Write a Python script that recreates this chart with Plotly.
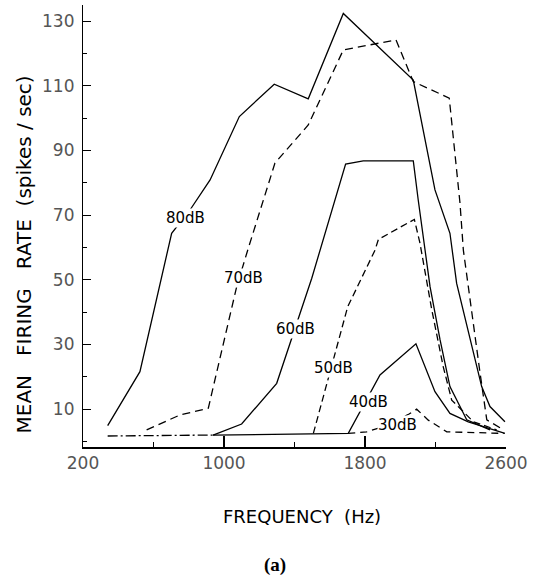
import plotly.graph_objects as go

# ---- data (frequency in Hz, mean firing rate in spikes/sec) ----
f80 = [340, 523, 703, 807, 921, 1087, 1285, 1478, 1677, 2074, 2197, 2282, 2320, 2396, 2462, 2509, 2594]
r80 = [4.9, 21.6, 64.4, 71.6, 80.9, 100.5, 110.5, 106.0, 132.4, 111.8, 77.8, 64.4, 48.9, 31.4, 17.0, 10.8, 6.1]

f70 = [561, 750, 911, 1072, 1138, 1289, 1478, 1677, 1976, 2074, 2278, 2339, 2358, 2396, 2453, 2491, 2585]
r70 = [3.6, 8.2, 10.3, 47.9, 59.8, 86.1, 97.9, 121.1, 124.2, 111.3, 106.2, 73.7, 59.2, 43.7, 21.1, 6.7, 3.6]

f60 = [938, 1100, 1299, 1498, 1690, 1790, 2074, 2102, 2169, 2226, 2282, 2377, 2509]
r60 = [2.0, 5.4, 18.0, 50.5, 85.8, 86.8, 86.8, 74.7, 47.9, 31.4, 17.0, 6.7, 3.6]

f50 = [1507, 1668, 1702, 1857, 1876, 2080, 2112, 2179, 2244, 2292, 2415, 2547]
r50 = [2.5, 34.5, 41.7, 59.2, 62.5, 68.7, 61.3, 40.7, 23.1, 12.8, 6.1, 3.6]

f40 = [938, 1705, 1885, 2089, 2197, 2244, 2282, 2386, 2594]
r40 = [2.0, 2.5, 20.6, 30.2, 15.4, 11.8, 8.7, 6.1, 2.5]

f30 = [1705, 1810, 1900, 2050, 2093, 2120, 2159, 2264, 2509, 2590]
r30 = [2.5, 3.0, 4.5, 8.5, 10.0, 8.7, 6.6, 3.0, 2.5, 2.5]

f_base = [340, 938]
r_base = [1.7, 2.0]

curve_labels = ["80dB", "70dB", "60dB", "50dB", "40dB", "30dB"]
label_f = [779, 1108, 1403, 1624, 1817, 1982]
label_r = [69.1, 50.6, 34.8, 22.7, 12.2, 5.1]

x_ticks = [200, 1000, 1800, 2600]
y_ticks = [10, 30, 50, 70, 90, 110, 130]

fig = go.Figure()
line_w = 1.3
series = [
    (f80, r80, "solid"),
    (f70, r70, "8px,5px"),
    (f60, r60, "solid"),
    (f50, r50, "7px,4px"),
    (f40, r40, "solid"),
    (f30, r30, "7px,5px"),
    (f_base, r_base, "10px,3px,2px,3px"),
]
for fx, ry, dash in series:
    fig.add_trace(go.Scatter(x=fx, y=ry, mode="lines",
                             line=dict(color="black", width=line_w, dash=dash),
                             showlegend=False, hoverinfo="skip"))

for t, fx, ry in zip(curve_labels, label_f, label_r):
    fig.add_annotation(x=fx, y=ry, xref="x", yref="y", text=t, showarrow=False,
                       font=dict(family="DejaVu Sans", size=15, color="black"),
                       bgcolor="white", borderpad=0)

tick_font = dict(family="DejaVu Sans", size=17, color="#555555")
fig.update_xaxes(range=[200, 2600], tickvals=x_ticks, ticktext=[str(v) for v in x_ticks],
                 ticks="inside", ticklen=11, tickwidth=1.5, tickcolor="black",
                 minor=dict(dtick=400, tick0=200, ticks="inside", ticklen=5, tickwidth=1.2, tickcolor="black"),
                 showline=True, linecolor="black", linewidth=1.8, showgrid=False, zeroline=False,
                 tickfont=tick_font)
fig.update_yaxes(range=[-1.7, 135], tickvals=y_ticks, ticktext=[str(v) for v in y_ticks],
                 ticks="inside", ticklen=8, tickwidth=1.2, tickcolor="black",
                 minor=dict(dtick=10, tick0=0, ticks="inside", ticklen=4, tickwidth=1, tickcolor="black"),
                 showline=True, linecolor="black", linewidth=1.2, showgrid=False, zeroline=False,
                 tickfont=tick_font, ticklabelstandoff=4)

fig.add_annotation(x=-0.14, y=0.435, xref="paper", yref="paper", xanchor="center", yanchor="middle",
                   text="MEAN\u00a0\u00a0\u00a0FIRING\u00a0\u00a0\u00a0RATE\u00a0\u00a0(spikes\u00a0/\u00a0sec)",
                   textangle=-90, showarrow=False,
                   font=dict(family="DejaVu Sans", size=20, color="black"))
fig.add_annotation(x=0.517, y=-0.158, xref="paper", yref="paper", xanchor="center", yanchor="middle",
                   text="FREQUENCY\u00a0\u00a0(Hz)", showarrow=False,
                   font=dict(family="DejaVu Sans", size=18, color="black"))
fig.add_annotation(x=0.454, y=-0.267, xref="paper", yref="paper", xanchor="center", yanchor="middle",
                   text="<b>(a)</b>", showarrow=False,
                   font=dict(family="Liberation Serif", size=19, color="black"))

fig.update_layout(width=536, height=577, margin=dict(l=83, r=30, t=5, b=130),
                  plot_bgcolor="white", paper_bgcolor="white")
fig.write_html("out.html")
